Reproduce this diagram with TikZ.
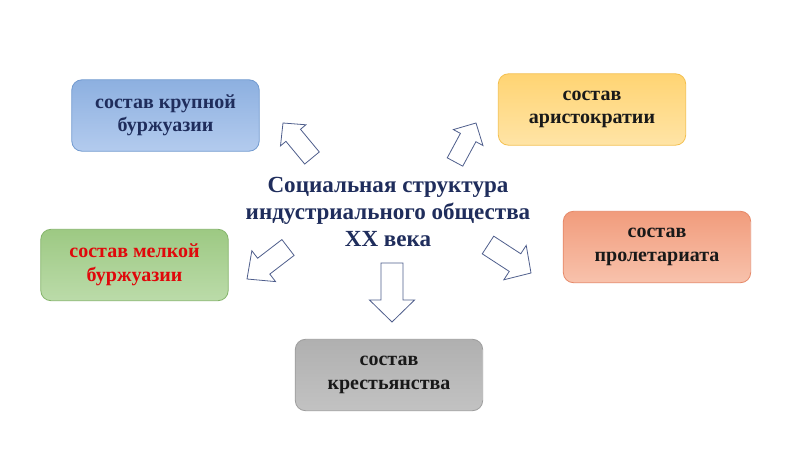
\documentclass[tikz,border=0pt]{standalone}
\usepackage{fontspec}
\setmainfont{Liberation Serif}
\usetikzlibrary{calc}
\definecolor{navy}{HTML}{1F2D5C}
\definecolor{arrline}{HTML}{4F5E8C}
\definecolor{bluetop}{HTML}{8DB0E0}
\definecolor{bluebot}{HTML}{B3CBEE}
\definecolor{blueedge}{HTML}{7099CF}
\definecolor{yeltop}{HTML}{FFD473}
\definecolor{yelbot}{HTML}{FFE4A6}
\definecolor{yeledge}{HTML}{F3C04F}
\definecolor{grntop}{HTML}{9DC983}
\definecolor{grnbot}{HTML}{BBDBA9}
\definecolor{grnedge}{HTML}{84B46A}
\definecolor{orgtop}{HTML}{F19C7C}
\definecolor{orgbot}{HTML}{F8C2AC}
\definecolor{orgedge}{HTML}{E68766}
\definecolor{graytop}{HTML}{B0B0B0}
\definecolor{graymid}{HTML}{D6D6D6}
\definecolor{graybot}{HTML}{C2C2C2}
\definecolor{grayedge}{HTML}{9C9C9C}
\definecolor{redtext}{HTML}{E0080B}
\tikzset{
  x=0.75pt, y=-0.75pt,
  groupbox/.style={rounded corners=7.5pt, minimum width=140.5pt, minimum height=53.5pt,
    align=center, inner sep=2pt, line width=0.6pt,
    font=\fontsize{15}{17.6}\selectfont\bfseries},
  bluebox/.style={groupbox, draw=blueedge, top color=bluetop, bottom color=bluebot, text=navy},
  yelbox/.style={groupbox, draw=yeledge, top color=yeltop, bottom color=yelbot, text=black!90},
  grnbox/.style={groupbox, draw=grnedge, top color=grntop, bottom color=grnbot, text=redtext},
  orgbox/.style={groupbox, draw=orgedge, top color=orgtop, bottom color=orgbot, text=black!90},
  graybox/.style={groupbox, draw=grayedge, top color=graytop, middle color=graymid, bottom color=graybot, text=black!90},
  titletext/.style={align=center, text=navy, font=\fontsize{17.3}{20.3}\selectfont\bfseries},
  blockarr/.style={draw=arrline, fill=white, line width=0.6pt, line join=miter}
}
\newcommand{\blkarrow}[4]{%
  \coordinate (#1-b) at ($(#1-p)!#4!(#1-t)$);
  \draw[blockarr] ($(#1-t)!#2!90:(#1-p)$) -- ($(#1-b)!#2!90:(#1-p)$) -- ($(#1-b)!#3!90:(#1-p)$) -- (#1-p)
    -- ($(#1-b)!#3!-90:(#1-p)$) -- ($(#1-b)!#2!-90:(#1-p)$) -- ($(#1-t)!#2!-90:(#1-p)$) -- cycle;}
\begin{document}
\begin{tikzpicture}
\useasboundingbox[fill=white] (0,0) rectangle (800,449);
\node[bluebox] (krup) at (165.5,115.5) {состав крупной\\буржуазии};
\node[yelbox]  (arist) at (592,109.5) {состав\\аристократии};
\node[grnbox]  (melk) at (134.5,265) {состав мелкой\\буржуазии};
\node[orgbox]  (prol) at (657,247) {состав\\пролетариата};
\node[graybox] (krest) at (389,375) {состав\\крестьянства};
\node[titletext] (title) at (388,212) {Социальная структура\\индустриального общества\\XX века};
% block arrows
\coordinate (ul-t) at (312,158); \coordinate (ul-p) at (283,123);
\blkarrow{ul}{7.1pt}{12.4pt}{12pt}
\coordinate (ur-t) at (455,162); \coordinate (ur-p) at (476,123);
\blkarrow{ur}{6.6pt}{12.6pt}{12.4pt}
\coordinate (ll-t) at (288,247.5); \coordinate (ll-p) at (247,279);
\blkarrow{ll}{7.5pt}{14.6pt}{15.8pt}
\coordinate (lr-t) at (488,245); \coordinate (lr-p) at (531,273);
\blkarrow{lr}{7.9pt}{15.4pt}{14.3pt}
\coordinate (dn-t) at (392,263); \coordinate (dn-p) at (392,322);
\blkarrow{dn}{8.25pt}{16.9pt}{16.5pt}
\end{tikzpicture}
\end{document}
